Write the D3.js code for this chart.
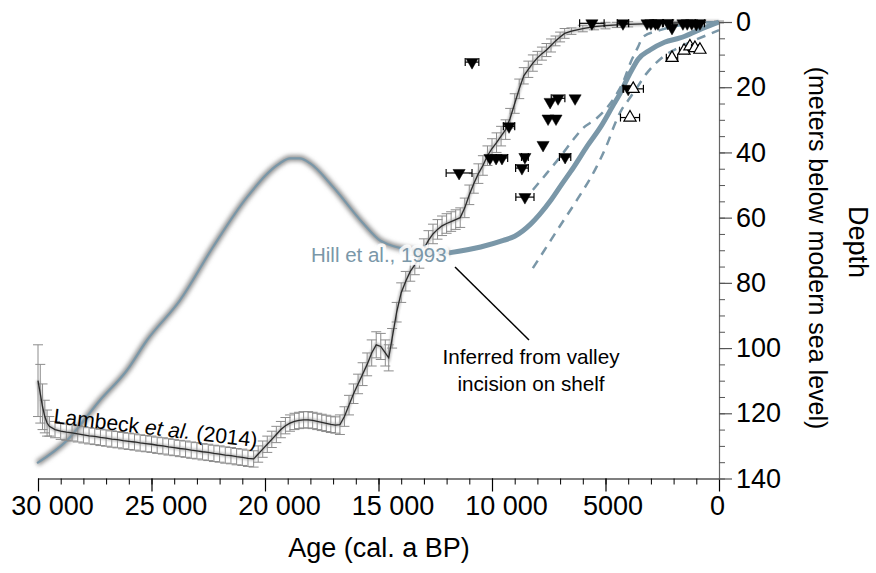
<!DOCTYPE html>
<html>
<head>
<meta charset="utf-8">
<script src="https://cdn.jsdelivr.net/npm/d3@7"></script>
<style>
  body { margin: 0; background: #fff; }
  svg { font-family: 'Liberation Sans', Arial, sans-serif; }
</style>
</head>
<body>
<div id="chart"></div>
<script>
// Lambeck et al. (2014): [age, depth, error]
const lambeck = [
  [30000, 110, 11], [29900, 114, 9], [29800, 118, 7], [29700, 121, 5], [29600, 123, 4],
  [29500, 124, 3], [29250, 125, 2.5], [29000, 125.5, 2.5], [28750, 125.8, 2.5], [28500, 126, 2.5],
  [28250, 126.3, 2.5], [28000, 126.6, 2.5], [27750, 126.9, 2.5], [27500, 127.1, 2.5], [27250, 127.4, 2.5],
  [27000, 127.6, 2.5], [26750, 127.9, 2.5], [26500, 128.1, 2.5], [26250, 128.4, 2.5], [26000, 128.6, 2.5],
  [25750, 128.8, 2.5], [25500, 129.1, 2.5], [25250, 129.3, 2.5], [25000, 129.5, 2.5], [24750, 129.8, 2.5],
  [24500, 130, 2.5], [24250, 130.3, 2.5], [24000, 130.5, 2.5], [23750, 130.8, 2.5], [23500, 131, 2.5],
  [23250, 131.3, 2.5], [23000, 131.5, 2.5], [22750, 131.8, 2.5], [22500, 132, 2.5], [22250, 132.3, 2.5],
  [22000, 132.5, 2.5], [21750, 132.8, 2.5], [21500, 133, 2.5], [21250, 133.3, 2.5], [21000, 133.5, 2.5],
  [20750, 133.8, 2.5], [20500, 134, 2.5], [20300, 132.5, 2.5], [20100, 131, 2.5], [19900, 129.5, 2.5],
  [19700, 128, 2.5], [19500, 126.5, 2.5], [19300, 125, 2.5], [19100, 123.8, 2.5], [18900, 123, 2.5],
  [18700, 122.5, 2.5], [18500, 122.2, 2.5], [18300, 122, 2.5], [18100, 122, 2.5], [17900, 122.2, 2.5],
  [17700, 122.5, 2.5], [17500, 122.8, 2.5], [17300, 123.1, 2.5], [17100, 123.4, 2.5], [16900, 123.6, 2.5],
  [16700, 123.5, 3], [16500, 121, 3], [16300, 117.5, 3], [16100, 114, 3], [15900, 111, 3],
  [15700, 108, 3.5], [15500, 105, 3.5], [15300, 101.5, 4], [15100, 99, 4], [14900, 99.5, 4],
  [14700, 101.5, 4], [14550, 103, 4], [14400, 97, 3], [14200, 89, 3], [14000, 83, 3],
  [13800, 79.5, 3], [13600, 76.5, 3], [13400, 74.5, 3], [13200, 72.5, 3], [13000, 69.5, 3],
  [12800, 67, 3], [12600, 65, 3], [12400, 63.6, 3], [12200, 62.5, 3], [12000, 61.8, 3],
  [11800, 61.2, 3], [11600, 60.6, 3], [11400, 60, 3], [11200, 57, 3], [11000, 53, 3],
  [10800, 49.5, 3], [10600, 46.5, 3], [10400, 44, 3], [10200, 41, 3], [10000, 38.8, 3],
  [9800, 37, 3], [9600, 35, 3], [9400, 33, 3], [9200, 29.5, 3], [9000, 25, 3],
  [8800, 20.5, 3], [8600, 16.5, 2.5], [8400, 14.5, 2.5], [8200, 12.6, 2.5], [8000, 11, 2],
  [7800, 9.7, 2], [7600, 8.6, 2], [7400, 7.2, 2], [7200, 5.8, 1.5], [7000, 4.6, 1.5],
  [6800, 3.5, 1.5], [6500, 2.8, 1], [6000, 2, 1], [5500, 1.4, 1], [5000, 1.1, 1],
  [4500, 0.9, 0.8], [4000, 0.7, 0.8], [3000, 0.5, 0.5], [2000, 0.3, 0.5], [1000, 0.1, 0.3],
  [0, 0, 0.3],
];

// Hill et al., 1993 – inferred from valley incision on shelf (blurred part)
const hillInferred = [
  [30040, 135.3], [28720, 128.3], [27270, 116], [26080, 106.8], [25200, 97.6],
  [23740, 85.3], [22290, 69], [20790, 53.7], [19340, 43.3], [18900, 41.8],
  [18460, 41.8], [18020, 43.3], [17000, 50.6], [15680, 61.7], [14930, 67],
  [14490, 68.4], [13500, 70], [12500, 70.8], [11900, 70.8],
];

// Hill et al., 1993 – main curve and its bounds
const hillCurve = [
  [11900, 70.8], [10500, 69], [9500, 67], [9000, 65.7], [8300, 62], [7900, 59],
  [7400, 54.6], [6900, 49.5], [6400, 44.5], [5800, 38], [5200, 32], [4700, 26],
  [4350, 21.8], [4050, 17.5], [3800, 14.2], [3570, 11.5], [3040, 8.6], [2400, 6.2],
  [1720, 4.9], [900, 2.5], [0, 0],
];
const hillUpper = [
  [8200, 51.5], [7600, 46.5], [7000, 41.4], [6500, 36.8], [6000, 32.6], [5400, 29.6],
  [4900, 26], [4500, 22], [4200, 18], [3900, 12.5], [3570, 7.7], [3350, 4.6],
  [2600, 2.5], [1700, 1], [0, 0],
];
const hillLower = [
  [8200, 75.5], [7600, 69], [7000, 62.5], [6250, 54.5], [5400, 44.5], [4900, 37],
  [4600, 31.5], [4300, 27], [4000, 24], [3700, 21], [3170, 15.6], [2470, 10.7],
  [1720, 7.7], [530, 4], [0, 2.5],
];

// sea-level index points: [age, depth, age error]
const filledPoints = [
  [10880, 12.3, 300], [11450, 46.3, 570], [9250, 32, 250], [10090, 41.7, 0],
  [9820, 41.7, 0], [9560, 41.7, 250], [8550, 41.4, 150], [8680, 44.8, 280],
  [8550, 53.7, 400], [7750, 37.7, 0], [6780, 41.4, 250], [7440, 24.5, 0],
  [7090, 23.4, 300], [6340, 23.4, 0], [7530, 29.6, 0], [7180, 29.6, 0],
  [4000, 20.5, 200], [5600, 0.4, 540], [4230, 0.4, 250], [3170, 0.4, 0],
  [3000, 0.4, 0], [2800, 0.4, 0], [2690, 0.4, 200], [2250, 0.3, 200],
  [2070, 1.8, 0], [1590, 0.4, 0], [1400, 0.4, 0], [1200, 0.4, 0],
  [1000, 0.6, 0], [840, 0.4, 200],
];
const openPoints = [
  [3780, 20.5, 450], [3920, 29.3, 420], [2070, 11, 250], [1540, 8.8, 200],
  [1280, 7.5, 0], [1060, 8, 150], [840, 8.5, 0],
];

const xMajor = [30000, 25000, 20000, 15000, 10000, 5000, 0];
const xLabels = ['30 000', '25 000', '20 000', '15 000', '10 000', '5000', '0'];
const yMajor = [0, 20, 40, 60, 80, 100, 120, 140];

const width = 876;
const height = 573;
const hillColor = '#7a97a8';

const x = d3.scaleLinear().domain([30000, 0]).range([38, 719]);
const y = d3.scaleLinear().domain([0, 140]).range([22, 478.5]);

const svg = d3.select('#chart').append('svg')
  .attr('width', width)
  .attr('height', height);

const defs = svg.append('defs');
defs.append('filter').attr('id', 'blur')
  .attr('x', '-10%').attr('y', '-10%').attr('width', '120%').attr('height', '120%')
  .append('feGaussianBlur').attr('stdDeviation', 2);
defs.append('filter').attr('id', 'soft')
  .append('feGaussianBlur').attr('stdDeviation', 1);

const line = d3.line()
  .x(d => x(d[0]))
  .y(d => y(d[1]));
const smooth = d3.line()
  .curve(d3.curveMonotoneX)
  .x(d => x(d[0]))
  .y(d => y(d[1]));

// Hill inferred (blurred)
svg.append('path')
  .datum(hillInferred)
  .attr('d', smooth)
  .attr('fill', 'none')
  .attr('stroke', '#909090')
  .attr('stroke-width', 6)
  .attr('filter', 'url(#blur)');
svg.append('path')
  .datum(hillInferred)
  .attr('d', smooth)
  .attr('fill', 'none')
  .attr('stroke', hillColor)
  .attr('stroke-width', 2.2);

// Lambeck error bars
const errG = svg.append('g')
  .attr('stroke', '#8c8c8c')
  .attr('stroke-width', 1);
lambeck.forEach((d) => {
  const cx = x(d[0]);
  const y0 = y(d[1] - d[2]);
  const y1 = y(d[1] + d[2]);
  errG.append('line').attr('x1', cx).attr('x2', cx).attr('y1', y0).attr('y2', y1);
  errG.append('line').attr('x1', cx - 5).attr('x2', cx + 5).attr('y1', y0).attr('y2', y0);
  errG.append('line').attr('x1', cx - 5).attr('x2', cx + 5).attr('y1', y1).attr('y2', y1);
});

svg.append('path')
  .datum(lambeck)
  .attr('d', line)
  .attr('fill', 'none')
  .attr('stroke', '#999')
  .attr('stroke-width', 4)
  .attr('opacity', 0.6)
  .attr('filter', 'url(#soft)');
svg.append('path')
  .datum(lambeck)
  .attr('d', line)
  .attr('fill', 'none')
  .attr('stroke', '#2b2b2b')
  .attr('stroke-width', 1.3);

// Hill curve and bounds
svg.append('path')
  .datum(hillCurve)
  .attr('d', smooth)
  .attr('fill', 'none')
  .attr('stroke', hillColor)
  .attr('stroke-width', 5);
[hillUpper, hillLower].forEach((b) => {
  svg.append('path')
    .datum(b)
    .attr('d', smooth)
    .attr('fill', 'none')
    .attr('stroke', hillColor)
    .attr('stroke-width', 2.5)
    .attr('stroke-dasharray', '9,7');
});

// index points
const drawPoints = (data, filled) => {
  const g = svg.append('g');
  data.forEach((d) => {
    const cx = x(d[0]);
    const cy = y(d[1]);
    if (d[2] > 0) {
      const xa = x(d[0] + d[2]);
      const xb = x(d[0] - d[2]);
      g.append('line').attr('x1', xa).attr('x2', xb).attr('y1', cy).attr('y2', cy)
        .attr('stroke', '#000').attr('stroke-width', 1.2);
      [xa, xb].forEach((xe) => {
        g.append('line').attr('x1', xe).attr('x2', xe).attr('y1', cy - 4).attr('y2', cy + 4)
          .attr('stroke', '#000').attr('stroke-width', 1.2);
      });
    }
    g.append('path')
      .attr('d', d3.symbol(d3.symbolTriangle, 64)())
      .attr('transform', `translate(${cx},${cy})${filled ? ' rotate(180)' : ''}`)
      .attr('fill', filled ? '#000' : '#fff')
      .attr('stroke', '#000')
      .attr('stroke-width', filled ? 0.5 : 1.2);
  });
};
drawPoints(filledPoints, true);
drawPoints(openPoints, false);

// annotations
svg.append('text')
  .attr('x', 311)
  .attr('y', 262)
  .attr('font-size', 20.5)
  .attr('fill', hillColor)
  .attr('stroke', 'rgba(255,255,255,0.85)')
  .attr('stroke-width', 7)
  .attr('stroke-linejoin', 'round')
  .attr('paint-order', 'stroke')
  .text('Hill et al., 1993');

svg.append('line')
  .attr('x1', 455).attr('y1', 267)
  .attr('x2', 529).attr('y2', 340)
  .attr('stroke', '#000')
  .attr('stroke-width', 1.5);

svg.append('text')
  .attr('text-anchor', 'middle')
  .attr('font-size', 20.7)
  .selectAll('tspan')
  .data(['Inferred from valley', 'incision on shelf'])
  .join('tspan')
  .attr('x', 531)
  .attr('y', (d, i) => 364 + i * 27)
  .text(d => d);

const lam = svg.append('text')
  .attr('transform', 'translate(53,423) rotate(6.8)')
  .attr('font-size', 21.2);
lam.append('tspan').text('Lambeck ');
lam.append('tspan').attr('font-style', 'italic').text('et al.');
lam.append('tspan').text(' (2014)');

// x axis
svg.append('g')
  .attr('transform', `translate(0,${y(140)})`)
  .call(d3.axisBottom(x).tickValues(d3.range(0, 30001, 1000)).tickSize(6).tickSizeOuter(0).tickFormat(''))
  .call(g => g.select('.domain').attr('stroke', '#000').attr('stroke-width', 1.2));
const xAxis = svg.append('g')
  .attr('transform', `translate(0,${y(140)})`)
  .call(d3.axisBottom(x).tickValues(xMajor).tickSize(13).tickSizeOuter(0)
    .tickFormat((d, i) => xLabels[i]));
xAxis.select('.domain').remove();
xAxis.selectAll('line').attr('stroke-width', 1.2);
xAxis.selectAll('text')
  .attr('font-size', 27)
  .attr('fill', '#000')
  .attr('font-family', "'Liberation Sans', Arial, sans-serif")
  .attr('y', 17)
  .attr('dx', d => (d >= 10000 ? 14 : d > 0 ? 7 : -2));

svg.append('text')
  .attr('x', 379)
  .attr('y', 557)
  .attr('text-anchor', 'middle')
  .attr('font-size', 27)
  .text('Age (cal. a BP)');

// y axis
svg.append('g')
  .attr('transform', `translate(${x(0)},0)`)
  .call(d3.axisRight(y).tickValues(d3.range(0, 141, 5)).tickSize(6).tickSizeOuter(0).tickFormat(''))
  .call(g => g.select('.domain').attr('stroke', '#666').attr('stroke-width', 1.2))
  .call(g => g.selectAll('line').attr('stroke', '#555'));
const yAxis = svg.append('g')
  .attr('transform', `translate(${x(0)},0)`)
  .call(d3.axisRight(y).tickValues(yMajor).tickSize(13).tickSizeOuter(0));
yAxis.select('.domain').remove();
yAxis.selectAll('line').attr('stroke', '#555').attr('stroke-width', 1.2);
yAxis.selectAll('text')
  .attr('font-size', 27)
  .attr('fill', '#000')
  .attr('font-family', "'Liberation Sans', Arial, sans-serif")
  .attr('x', 17);

svg.append('text')
  .attr('transform', 'translate(849,242) rotate(90)')
  .attr('text-anchor', 'middle')
  .attr('font-size', 27)
  .text('Depth');
svg.append('text')
  .attr('transform', 'translate(809,248) rotate(90)')
  .attr('text-anchor', 'middle')
  .attr('font-size', 25)
  .text('(meters below modern sea level)');
</script>
</body>
</html>
